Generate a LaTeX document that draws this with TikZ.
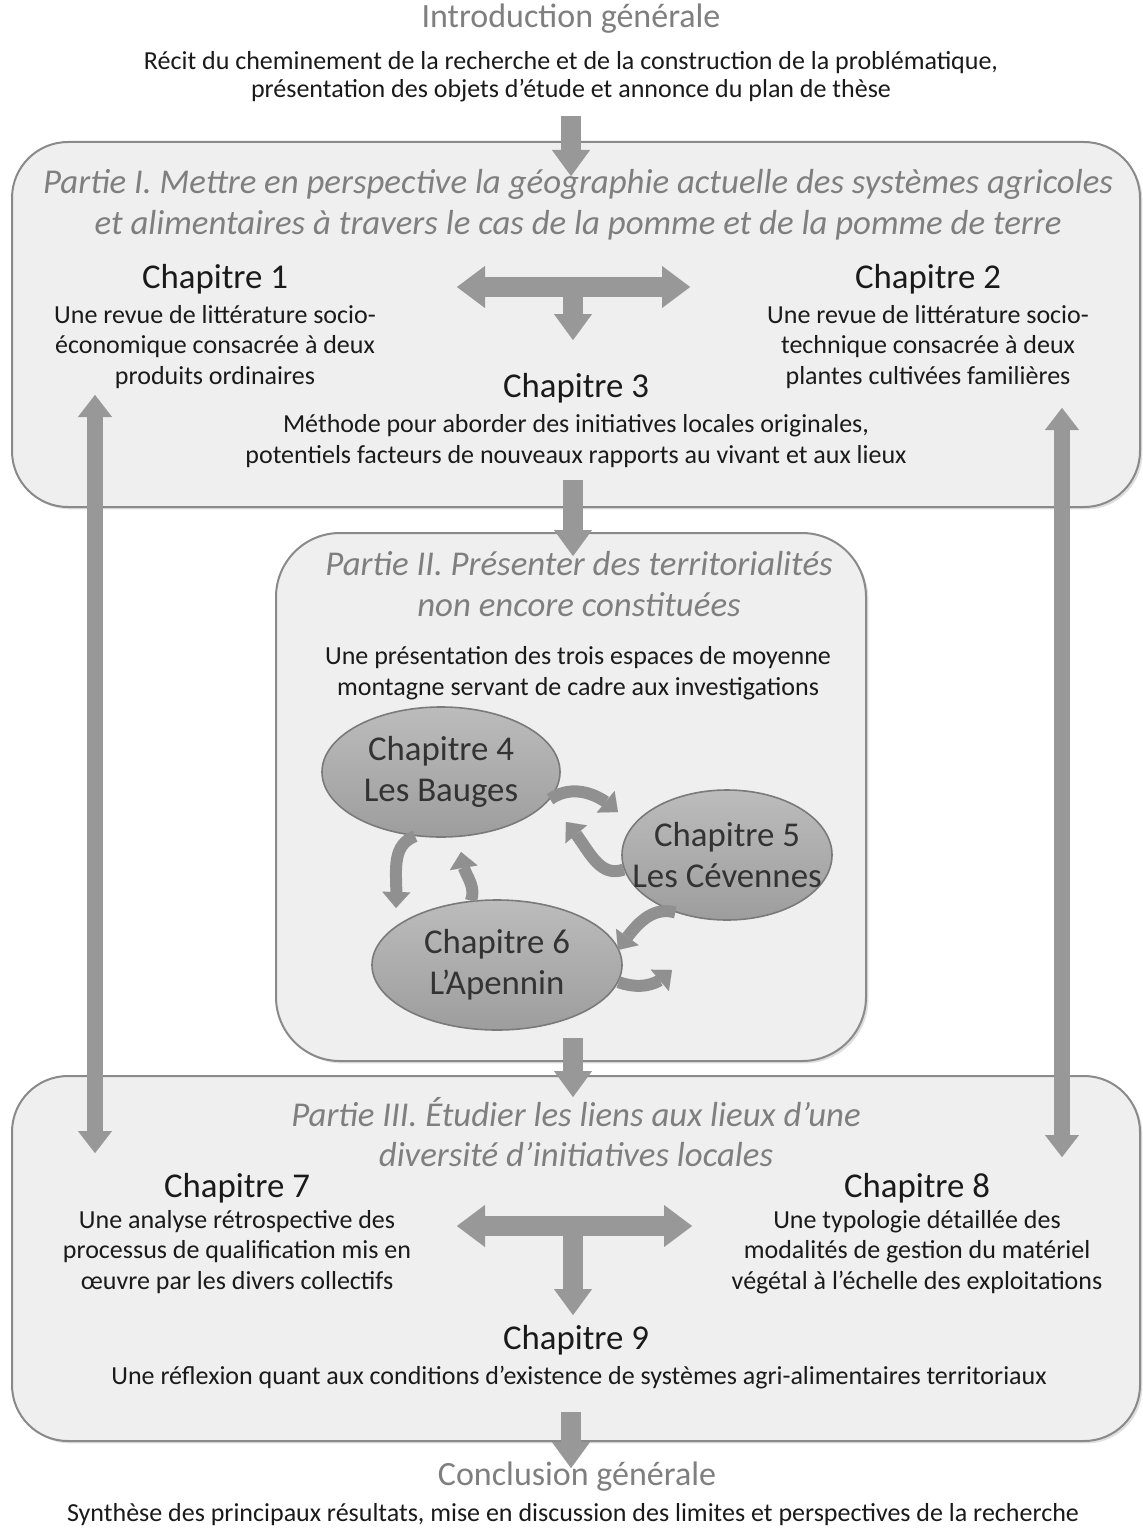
\documentclass[tikz,border=0pt]{standalone}
\usepackage{fontspec}
\setmainfont{Carlito}
\usetikzlibrary{arrows.meta,shadows,bending,shapes.geometric}

\definecolor{boxfill}{HTML}{EFEFEF}
\definecolor{boxline}{HTML}{8A8A8A}
\definecolor{arrowgray}{HTML}{989898}
\definecolor{titlegray}{HTML}{7F7F7F}
\definecolor{bodytext}{HTML}{1A1A1A}
\definecolor{ellfill}{HTML}{ABABAB}
\definecolor{ellline}{HTML}{7A7A7A}

\tikzset{
  headL/.tip={Triangle[width=21pt,length=14pt,line width=0.01pt]},
  headD/.tip={Triangle[width=19pt,length=13pt,line width=0.01pt]},
  headM/.tip={Triangle[width=17pt,length=11pt,line width=0.01pt]},
  headS/.tip={Triangle[width=14pt,length=8pt,line width=0.01pt]},
  partbox/.style={draw=boxline, line width=1pt, fill=boxfill, inner sep=0pt,
    drop shadow={opacity=0.25, shadow xshift=1.2pt, shadow yshift=-1.2pt}},
  titletext/.style={font=\fontsize{17}{20}\selectfont, text=titlegray, align=center},
  parttitle/.style={font=\fontsize{17.4}{20.3}\selectfont\itshape, text=titlegray, align=center},
  chaphead/.style={font=\fontsize{17.4}{20}\selectfont, text=bodytext},
  bodytxt/.style={font=\fontsize{13}{15.3}\selectfont, text=bodytext, align=center},
  ellnode/.style={ellipse, draw=ellline, line width=0.8pt, top color=ellfill!80!white,
    bottom color=ellfill!92!black, inner sep=0pt, align=center,
    font=\fontsize{17.4}{20.5}\selectfont, text=black!80},
  blockarrow/.style={draw=arrowgray, line width=10pt},
  longarrow/.style={draw=arrowgray, line width=8pt},
  curvearrow/.style={draw=arrowgray!95!black, line width=6pt, -{headS[flex]}},
}

\begin{document}
\begin{tikzpicture}[x=0.5pt,y=0.5pt]
\fill[white] (0,0) rectangle (1142,-1530);
\useasboundingbox (0,0) rectangle (1142,-1530);

% ---------- introduction ----------
\node[titletext] (intro) at (571,-19) {Introduction générale};
\node[bodytxt, font=\fontsize{13}{14.2}\selectfont] (introtxt) at (571,-77) {Récit du cheminement de la recherche et de la construction de la problématique,\\présentation des objets d’étude et annonce du plan de thèse};

% ---------- the three parts ----------
\node[partbox, rounded corners=28pt, minimum width=564pt, minimum height=182.5pt] (p1) at (576,-324.5) {};
\node[partbox, rounded corners=32pt, minimum width=295pt, minimum height=264pt] (p2) at (571,-797) {};
\node[partbox, rounded corners=28pt, minimum width=564pt, minimum height=182.5pt] (p3) at (576,-1258.5) {};

% ---------- part I ----------
\node[parttitle] (p1title) at (578,-205) {Partie I. Mettre en perspective la géographie actuelle des systèmes agricoles\\et alimentaires à travers le cas de la pomme et de la pomme de terre};
\node[chaphead] (c1) at (215,-279) {Chapitre 1};
\node[bodytxt] (c1txt) at (215,-347) {Une revue de littérature socio-\\économique consacrée à deux\\produits ordinaires};
\node[chaphead] (c2) at (928,-279) {Chapitre 2};
\node[bodytxt] (c2txt) at (928,-347) {Une revue de littérature socio-\\technique consacrée à deux\\plantes cultivées familières};
\node[chaphead] (c3) at (576,-388) {Chapitre 3};
\node[bodytxt] (c3txt) at (576,-441) {Méthode pour aborder des initiatives locales originales,\\potentiels facteurs de nouveaux rapports au vivant et aux lieux};

% ---------- part II ----------
\node[parttitle] (p2title) at (579,-584) {Partie II. Présenter des territorialités\\non encore constituées};
\node[bodytxt] (p2txt) at (578,-673) {Une présentation des trois espaces de moyenne\\montagne servant de cadre aux investigations};
\node[ellnode, minimum width=119pt, minimum height=65pt] (e4) at (441,-772) {Chapitre 4\\Les Bauges};
\node[ellnode, minimum width=105pt, minimum height=65pt, inner xsep=-12pt] (e5) at (727,-855) {Chapitre 5\\Les Cévennes};
\node[ellnode, minimum width=125pt, minimum height=65pt] (e6) at (497,-965) {Chapitre 6\\L’Apennin};

% ---------- part III ----------
\node[parttitle] (p3title) at (576,-1132) {Partie III. Étudier les liens aux lieux d’une\\diversité d’initiatives locales};
\node[chaphead] (c7) at (237,-1188) {Chapitre 7};
\node[bodytxt] (c7txt) at (237,-1252) {Une analyse rétrospective des\\processus de qualification mis en\\œuvre par les divers collectifs};
\node[chaphead] (c8) at (917,-1188) {Chapitre 8};
\node[bodytxt] (c8txt) at (917,-1252) {Une typologie détaillée des\\modalités de gestion du matériel\\végétal à l’échelle des exploitations};
\node[chaphead] (c9) at (576,-1340) {Chapitre 9};
\node[bodytxt] (c9txt) at (579,-1378) {Une réflexion quant aux conditions d’existence de systèmes agri-alimentaires territoriaux};

% ---------- conclusion ----------
\node[titletext] (concl) at (577,-1477) {Conclusion générale};
\node[bodytxt] (concltxt) at (573,-1515) {Synthèse des principaux résultats, mise en discussion des limites et perspectives de la recherche};

% ---------- arrow end points ----------
\coordinate (a0s) at (571,-116);  \coordinate (a0e) at (571,-176);
\coordinate (t1L) at (457,-287);  \coordinate (t1R) at (690,-287);
\coordinate (t1C) at (573,-287);  \coordinate (t1D) at (573,-340);
\coordinate (a1s) at (573,-480);  \coordinate (a1e) at (573,-556);
\coordinate (a2s) at (573,-1038); \coordinate (a2e) at (573,-1097);
\coordinate (t3L) at (457,-1226); \coordinate (t3R) at (692,-1226);
\coordinate (t3C) at (573,-1226); \coordinate (t3D) at (573,-1315);
\coordinate (a3s) at (571,-1412); \coordinate (a3e) at (571,-1468);
\coordinate (vLt) at (95,-395);   \coordinate (vLb) at (95,-1153);
\coordinate (vRt) at (1062,-408); \coordinate (vRb) at (1062,-1157);

% ---------- straight block arrows ----------
\draw[blockarrow, -{headD}] (a0s) -- (a0e);
\draw[blockarrow, -{headD}] (t1C) -- (t1D);
\draw[blockarrow, {headL}-{headL}] (t1L) -- (t1R);
\draw[blockarrow, -{headD}] (a1s) -- (a1e);
\draw[blockarrow, -{headD}] (a2s) -- (a2e);
\draw[blockarrow, -{headD}] (t3C) -- (t3D);
\draw[blockarrow, {headL}-{headL}] (t3L) -- (t3R);
\draw[blockarrow, -{headD}] (a3s) -- (a3e);
\draw[longarrow, {headM}-{headM}] (vLt) -- (vLb);
\draw[longarrow, {headM}-{headM}] (vRt) -- (vRb);

% ---------- curved arrows between the three regions ----------
\coordinate (k1) at (618,-812);
\coordinate (k2) at (566,-822);
\coordinate (k3) at (618,-950);
\coordinate (k4) at (672,-970);
\coordinate (k5) at (396,-908);
\coordinate (k6) at (461,-852);
\draw[curvearrow] (e4.-14) to[out=35,in=135] (k1);
\draw[curvearrow] (e5.188) to[out=200,in=-45] (k2);
\draw[curvearrow] (e5.228) to[out=165,in=55] (k3);
\draw[curvearrow] (e6.-8) to[out=-20,in=230] (k4);
\draw[curvearrow] (e4.248) to[out=200,in=85] (k5);
\draw[curvearrow] (e6.112) to[out=70,in=-95] (k6);
\end{tikzpicture}
\end{document}
